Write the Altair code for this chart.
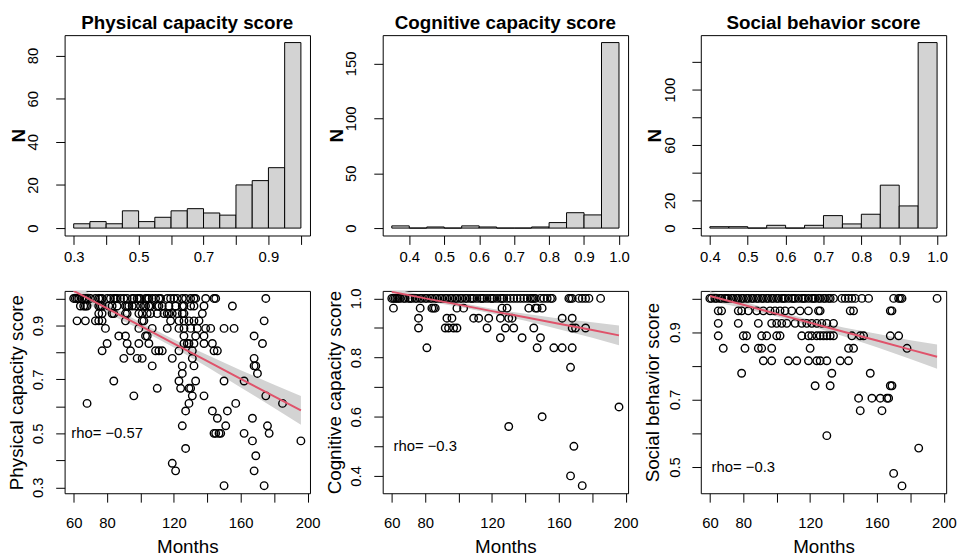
import altair as alt
import pandas as pd

FONT = "Liberation Sans"
RED = "#DF536B"
GREY = "#D3D3D3"

# ---------------- histogram data ----------------
PHYS_EDGES = [0.30, 0.35, 0.40, 0.45, 0.50, 0.55, 0.60, 0.65, 0.70, 0.75, 0.80, 0.85, 0.90, 0.95, 1.00]
PHYS_COUNTS = [2, 3, 2, 8, 3, 5, 8, 9, 7, 6, 20, 22, 28, 86]
COG_EDGES = [0.35, 0.40, 0.45, 0.50, 0.55, 0.60, 0.65, 0.70, 0.75, 0.80, 0.85, 0.90, 0.95, 1.00]
COG_COUNTS = [2, 0, 1, 0, 2, 1, 0, 0, 1, 5, 14, 12, 169]
SOC_EDGES = [0.40, 0.45, 0.50, 0.55, 0.60, 0.65, 0.70, 0.75, 0.80, 0.85, 0.90, 0.95, 1.00]
SOC_COUNTS = [1, 1, 0, 2, 0, 2, 9, 3, 10, 31, 16, 134]

# ---------------- scatter data (score -> months) ----------------
PHYS_ROWS = {
    1.000: [60, 61, 62, 63, 65, 67, 68, 70, 73, 75, 76, 77, 80, 82, 84, 85, 86, 88, 90, 92, 95, 96, 98, 99,
            100, 103, 104, 105, 107, 109, 111, 112, 116, 118, 120, 122, 125, 127, 130, 132, 133, 139, 144, 145, 175],
    0.972: [64, 66, 67, 68, 75, 76, 77, 81, 83, 86, 91, 92, 93, 95, 97, 100, 102, 103, 105, 106, 110, 111, 113,
            117, 121, 125, 126, 130, 132, 138, 155],
    0.944: [75, 77, 83, 84, 91, 92, 99, 101, 104, 106, 110, 114, 116, 117, 119, 122, 125, 126, 137],
    0.917: [62, 67, 73, 75, 77, 91, 101, 102, 118, 123, 126, 129, 132, 135, 174],
    0.889: [79, 99, 107, 116, 123, 126, 130, 134, 139, 142, 150, 156],
    0.861: [87, 91, 103, 104, 126, 133, 138, 168],
    0.833: [80, 92, 99, 105, 126, 128, 129, 132, 138, 143, 173],
    0.806: [77, 94, 109, 111, 113, 123, 131, 144, 146],
    0.778: [90, 98, 101, 119, 131, 168],
    0.750: [107, 125, 132, 168, 169],
    0.722: [125, 170],
    0.694: [84, 123, 133, 150, 162],
    0.667: [110, 124, 129, 130],
    0.639: [96, 131, 138, 175],
    0.611: [68, 129, 157, 185],
    0.583: [127, 143, 152],
    0.556: [146, 167],
    0.528: [125, 151, 176],
    0.500: [144, 145, 147, 148, 162, 177],
    0.472: [167, 196],
    0.444: [127],
    0.417: [169],
    0.389: [119],
    0.361: [121, 168],
    0.306: [150, 174],
}
COG_ROWS = {
    1.000: [60, 61, 62, 63, 64, 65, 67, 68, 70, 71, 72, 74, 75, 77, 78, 80, 81, 83, 84, 86, 87, 89, 90, 92, 93,
            95, 96, 98, 99, 101, 102, 104, 105, 107, 108, 109, 111, 113, 114, 115, 117, 119, 120, 121, 123, 125,
            126, 127, 129, 131, 133, 135, 137, 139, 141, 143, 144, 145, 146, 149, 151, 153, 155, 156, 166, 167,
            168, 172, 174, 176, 178, 185],
    0.967: [61, 77, 84, 85, 86, 99, 103, 126, 129, 142, 146, 147, 150],
    0.933: [76, 93, 96, 109, 112, 118, 125, 130, 132, 162, 168],
    0.900: [76, 92, 94, 97, 99, 117, 128, 133, 145, 168, 170, 176],
    0.867: [125, 138, 149],
    0.833: [81, 147, 157, 162, 168],
    0.767: [167],
    0.633: [196],
    0.600: [150],
    0.567: [130],
    0.500: [169],
    0.400: [167],
    0.367: [174],
}
SOC_ROWS = {
    1.000: [60, 61, 63, 64, 66, 67, 69, 70, 71, 73, 74, 76, 77, 79, 80, 82, 83, 85, 86, 88, 89, 91, 92, 94, 95,
            97, 98, 100, 101, 103, 104, 105, 107, 109, 110, 111, 113, 115, 116, 117, 119, 121, 122, 123, 125, 126,
            128, 129, 131, 132, 134, 139, 141, 143, 145, 147, 151, 155, 170, 173, 174, 175, 196],
    0.963: [65, 67, 77, 79, 83, 88, 92, 96, 99, 102, 105, 109, 114, 119, 125, 126, 144, 146, 168, 169],
    0.926: [65, 77, 89, 97, 100, 103, 106, 111, 115, 118, 121, 124, 127, 130, 134],
    0.889: [65, 80, 82, 91, 94, 100, 102, 115, 119, 121, 124, 126, 128, 130, 132, 134, 145, 150, 152, 168, 173],
    0.852: [68, 81, 89, 91, 97, 120, 143, 146, 178],
    0.815: [92, 97, 107, 112, 119, 124, 126, 130, 138, 143],
    0.778: [79, 133, 156],
    0.741: [123, 132, 168, 169],
    0.704: [149, 157, 162, 166, 167],
    0.667: [150, 163],
    0.593: [130],
    0.556: [185],
    0.481: [170],
    0.444: [175],
}

# ---------------- fitted line and confidence band ----------------
FIT_MONTHS = [60, 80, 100, 120, 140, 160, 180, 196]
PHYS_FIT = [1.028, 0.963, 0.898, 0.833, 0.768, 0.702, 0.637, 0.585]
PHYS_LO = [1.002, 0.946, 0.885, 0.818, 0.746, 0.670, 0.594, 0.532]
PHYS_HI = [1.054, 0.980, 0.911, 0.848, 0.790, 0.734, 0.680, 0.638]
COG_FIT = [1.022, 1.000, 0.979, 0.957, 0.936, 0.914, 0.893, 0.875]
COG_LO = [1.009, 0.991, 0.972, 0.949, 0.924, 0.896, 0.867, 0.842]
COG_HI = [1.035, 1.009, 0.986, 0.965, 0.948, 0.932, 0.919, 0.908]
SOC_FIT = [1.007, 0.981, 0.954, 0.928, 0.901, 0.875, 0.848, 0.827]
SOC_LO = [0.993, 0.971, 0.946, 0.919, 0.888, 0.855, 0.820, 0.791]
SOC_HI = [1.021, 0.991, 0.962, 0.937, 0.914, 0.895, 0.876, 0.863]

RHO_TEXT = ["rho= \u22120.57", "rho= \u22120.3", "rho= \u22120.3"]
TITLES = ["Physical capacity score", "Cognitive capacity score", "Social behavior score"]

# ---------------- axes ticks ----------------
TEN = [0.3, 0.4, 0.5, 0.6, 0.7, 0.8, 0.9, 1.0]
MONTH_TICKS = [60, 80, 100, 120, 140, 160, 180, 200]
MONTH_LABELS = ["60", "80", "120", "160", "200"]

W = 248
H_TOP = 202.5
H_BOT = 204.5
TICK = 9


def label_expr(labels):
    arr = ",".join("'%s'" % s for s in labels)
    return "indexof([%s], datum.label) >= 0 ? datum.label : ''" % arr


def axis(orient, values, labels, fmt, pad, title=None, title_off=0, title_bold=False, length=0):
    kw = dict(values=values, format=fmt, labelExpr=label_expr(labels), domain=False, grid=False,
              ticks=True, tickSize=TICK, tickColor="black", tickWidth=1,
              labelFont=FONT, labelFontSize=15, labelColor="black", labelPadding=pad,
              labelOverlap=False, labelFlush=False)
    if orient == "left":
        kw.update(labelAngle=270, labelAlign="center", labelBaseline="alphabetic")
    else:
        kw.update(labelAngle=0, labelAlign="center", labelBaseline="alphabetic")
    if title is None:
        kw["title"] = None
    else:
        kw.update(title=title, titleFont=FONT, titleFontSize=19, titleColor="black",
                  titleFontWeight="bold" if title_bold else "normal",
                  titleAlign="center", titleBaseline="alphabetic")
        if orient == "left":
            kw.update(titleAngle=270, titleX=-title_off, titleY=length / 2)
        else:
            kw.update(titleAngle=0, titleX=length / 2, titleY=title_off)
    return alt.Axis(**kw)


def hist_panel(edges, counts, title, xdom, xticks, xlabels, ydom, yticks, ylabels):
    df = pd.DataFrame({"x0": edges[:-1], "x1": edges[1:], "n": counts})
    x_ax = axis("bottom", xticks, xlabels, ".1f", 17)
    y_ax = axis("left", yticks, ylabels, "d", 18, title="N", title_off=40.7, title_bold=True, length=H_TOP)
    return alt.Chart(df).mark_rect(fill=GREY, stroke="black", strokeWidth=1).encode(
        x=alt.X("x0:Q", scale=alt.Scale(domain=xdom, nice=False, zero=False), axis=x_ax),
        x2="x1:Q",
        y=alt.Y("n:Q", scale=alt.Scale(domain=ydom, nice=False, zero=False), axis=y_ax),
        y2=alt.datum(0),
    ).properties(
        width=W, height=H_TOP,
        title=alt.TitleParams(title, font=FONT, fontSize=19, fontWeight="bold", color="black",
                              anchor="middle", baseline="alphabetic", offset=-13),
    )


def scatter_panel(rows, fit, lo, hi, ylabel, ydom, yticks, ylabels, rho):
    pts = pd.DataFrame([{"month": m, "score": s} for s, ms in rows.items() for m in ms])
    fitdf = pd.DataFrame({"month": FIT_MONTHS, "fit": fit, "lo": lo, "hi": hi})
    txt = pd.DataFrame({"month": [80], "score": [0.5], "label": [rho]})
    xs = alt.Scale(domain=[54.56, 201.44], nice=False, zero=False)
    ys = alt.Scale(domain=ydom, nice=False, zero=False)
    x_ax = axis("bottom", MONTH_TICKS, MONTH_LABELS, "d", 26, title="Months", title_off=59.5, length=W)
    y_ax = axis("left", yticks, ylabels, ".1f", 13, title=ylabel, title_off=42.5, length=H_BOT)
    band = alt.Chart(fitdf).mark_area(color=GREY, opacity=1, clip=True).encode(
        x=alt.X("month:Q", scale=xs, axis=x_ax),
        y=alt.Y("lo:Q", scale=ys, axis=y_ax),
        y2="hi:Q",
    )
    points = alt.Chart(pts).mark_point(shape="circle", filled=False, color="black", size=58,
                                       strokeWidth=1.4, opacity=1, clip=True).encode(
        x=alt.X("month:Q", scale=xs, axis=x_ax),
        y=alt.Y("score:Q", scale=ys, axis=y_ax),
    )
    line = alt.Chart(fitdf).mark_line(color=RED, strokeWidth=2, clip=True).encode(
        x=alt.X("month:Q", scale=xs, axis=x_ax),
        y=alt.Y("fit:Q", scale=ys, axis=y_ax),
    )
    text = alt.Chart(txt).mark_text(font=FONT, fontSize=15, color="black", align="center",
                                    baseline="middle").encode(
        x=alt.X("month:Q", scale=xs, axis=x_ax),
        y=alt.Y("score:Q", scale=ys, axis=y_ax),
        text="label:N",
    )
    return alt.layer(band, points, line, text).properties(width=W, height=H_BOT)


h1 = hist_panel(PHYS_EDGES, PHYS_COUNTS, TITLES[0], [0.272, 1.028], TEN, ["0.3", "0.5", "0.7", "0.9"],
                [-3.44, 89.44], [0, 20, 40, 60, 80], ["0", "20", "40", "60", "80"])
h2 = hist_panel(COG_EDGES, COG_COUNTS, TITLES[1], [0.324, 1.026], TEN[1:],
                ["0.4", "0.5", "0.6", "0.7", "0.8", "0.9", "1.0"],
                [-6.76, 175.76], [0, 50, 100, 150], ["0", "50", "100", "150"])
h3 = hist_panel(SOC_EDGES, SOC_COUNTS, TITLES[2], [0.376, 1.024], TEN[1:],
                ["0.4", "0.5", "0.6", "0.7", "0.8", "0.9", "1.0"],
                [-5.36, 139.36], [0, 20, 40, 60, 80, 100, 120], ["0", "20", "60", "100"])

s1 = scatter_panel(PHYS_ROWS, PHYS_FIT, PHYS_LO, PHYS_HI, TITLES[0], [0.278, 1.028], TEN,
                   ["0.3", "0.5", "0.7", "0.9"], RHO_TEXT[0])
s2 = scatter_panel(COG_ROWS, COG_FIT, COG_LO, COG_HI, TITLES[1], [0.3413, 1.0253], TEN[1:],
                   ["0.4", "0.6", "0.8", "1.0"], RHO_TEXT[1])
s3 = scatter_panel(SOC_ROWS, SOC_FIT, SOC_LO, SOC_HI, TITLES[2], [0.4222, 1.0222], TEN[2:],
                   ["0.5", "0.7", "0.9"], RHO_TEXT[2])

chart = alt.concat(
    h1, h2, h3, s1, s2, s3,
    columns=3,
    spacing=alt.RowColnumber(row=55.5, column=73.5),
    bounds="flush",
).properties(
    padding={"left": 6.3, "top": 10.5, "right": 5, "bottom": 5},
    background="white",
).configure_view(stroke="black", strokeWidth=1, fill="white")

chart.save("out.html", embed_options={"renderer": "svg", "actions": False})
